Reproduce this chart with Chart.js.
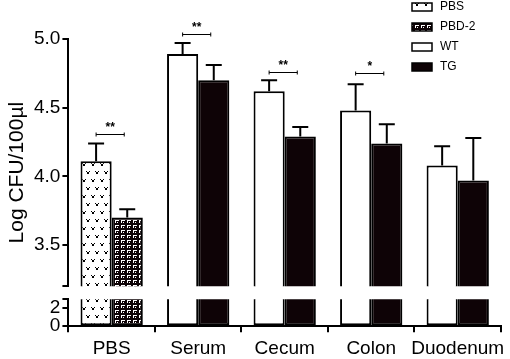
<!DOCTYPE html>
<html lang="en">
<head>
<meta charset="UTF-8">
<title>Log CFU/100µl</title>
<script src="https://cdn.jsdelivr.net/npm/chart.js"></script>
<style>
  html, body { margin: 0; padding: 0; background: #fff; }
  #wrap { width: 510px; height: 359px; position: relative; }
</style>
</head>
<body>
<div id="wrap"><canvas id="cfuChart"></canvas></div>
<script>
const categories = ['PBS', 'Serum', 'Cecum', 'Colon', 'Duodenum'];
const legendLabels = ['PBS', 'PBD-2', 'WT', 'TG'];
const yTitle = 'Log CFU/100µl';
// first bar of each group (PBS, then WT) and second bar (PBD-2, then TG)
const leftMeans = [4.11, 4.89, 4.62, 4.48, 4.08];
const leftSem = [0.13, 0.08, 0.08, 0.19, 0.14];
const rightMeans = [3.70, 4.70, 4.29, 4.24, 3.97];
const rightSem = [0.06, 0.11, 0.07, 0.14, 0.31];
const upperTicks = [3.2, 3.5, 4.0, 4.5, 5.0];
const lowerTicks = [0, 2, 2.9];
const sigGroups = [0, 1, 2, 3];
const sigMarks = ['**', '**', '**', '*'];
const sigLevels = [4.31, 5.04, 4.76, 4.755];

const FONT = "'Liberation Sans', Arial, sans-serif";
const tgBlack = '#0e0306';

function makePattern(w, h, draw) {
    const c = document.createElement('canvas');
    c.width = w;
    c.height = h;
    const g = c.getContext('2d');
    draw(g);
    return g.createPattern(c, 'repeat');
}

// little "v" marks on white (PBS)
const vPattern = makePattern(9, 16, g => {
    g.fillStyle = '#fff';
    g.fillRect(0, 0, 9, 16);
    g.fillStyle = '#000';
    const v = (x, y) => {
        g.fillRect(x, y, 1, 1);
        g.fillRect(x + 3, y, 1, 1);
        g.fillRect(x + 1, y + 1, 2, 1);
        g.fillRect(x + 1, y + 2, 2, 1);
    };
    v(1, 3);
    v(5, 11);
});

// white hooks on black (PBD-2)
const hookPattern = makePattern(6, 5, g => {
    g.fillStyle = tgBlack;
    g.fillRect(0, 0, 6, 5);
    g.fillStyle = '#fff';
    g.fillRect(1, 0, 4, 1);
    g.fillRect(1, 1, 1, 2);
    g.fillRect(3, 2, 1, 1);
});

const leftColors = categories.map((c, i) => i === 0 ? vPattern : '#ffffff');
const rightColors = categories.map((c, i) => i === 0 ? hookPattern : tgBlack);
const legendFills = [vPattern, hookPattern, '#ffffff', tgBlack];

function barSet(label, data, colors, axis, slot) {
    return {
        label: label,
        data: data,
        yAxisID: axis,
        stack: slot,
        backgroundColor: colors,
        borderColor: '#000',
        borderWidth: 2,
        borderSkipped: false,
        barPercentage: 1,
        categoryPercentage: 0.72
    };
}

const errorBars = {
    id: 'errorBars',
    afterDatasetsDraw(chart) {
        const ctx = chart.ctx;
        const sems = [leftSem, rightSem];
        const means = [leftMeans, rightMeans];
        ctx.save();
        ctx.strokeStyle = '#000';
        ctx.lineWidth = 2;
        [0, 1].forEach(d => {
            const meta = chart.getDatasetMeta(d);
            const ys = chart.scales[meta.yAxisID];
            meta.data.forEach((bar, i) => {
                const top = ys.getPixelForValue(means[d][i] + sems[d][i]);
                ctx.beginPath();
                ctx.moveTo(bar.x, bar.y);
                ctx.lineTo(bar.x, top);
                ctx.moveTo(bar.x - 8, top);
                ctx.lineTo(bar.x + 8, top);
                ctx.stroke();
            });
        });
        ctx.restore();
    }
};

const sigBrackets = {
    id: 'sigBrackets',
    afterDatasetsDraw(chart) {
        const ctx = chart.ctx;
        const ys = chart.scales.y;
        const a = chart.getDatasetMeta(0).data;
        const b = chart.getDatasetMeta(1).data;
        ctx.save();
        ctx.strokeStyle = '#000';
        ctx.fillStyle = '#000';
        ctx.lineWidth = 1;
        ctx.font = 'bold 12px ' + FONT;
        ctx.textAlign = 'center';
        ctx.textBaseline = 'bottom';
        sigGroups.forEach((g, k) => {
            const x1 = a[g].x;
            const x2 = b[g].x - 3;
            const y = Math.round(ys.getPixelForValue(sigLevels[k])) + 0.5;
            ctx.beginPath();
            ctx.moveTo(x1, y);
            ctx.lineTo(x2, y);
            ctx.moveTo(x1, y - 2);
            ctx.lineTo(x1, y + 2);
            ctx.moveTo(x2, y - 2);
            ctx.lineTo(x2, y + 2);
            ctx.stroke();
            ctx.fillText(sigMarks[k], (x1 + x2) / 2, y - 1);
        });
        ctx.restore();
    }
};

const boxLegend = {
    id: 'boxLegend',
    afterDraw(chart) {
        const ctx = chart.ctx;
        ctx.save();
        ctx.font = '12px ' + FONT;
        ctx.textBaseline = 'middle';
        ctx.textAlign = 'left';
        legendLabels.forEach((lab, i) => {
            const y = 3 + i * 20;
            ctx.fillStyle = legendFills[i];
            ctx.fillRect(412, y, 20, 8);
            ctx.strokeStyle = '#000';
            ctx.lineWidth = 1.5;
            ctx.strokeRect(412, y, 20, 8);
            ctx.fillStyle = '#000';
            ctx.fillText(lab, 440, y + 4);
        });
        ctx.restore();
    }
};

// axis title drawn by hand so it can sit across the broken axis
const sideTitle = {
    id: 'sideTitle',
    afterDraw(chart) {
        const ctx = chart.ctx;
        const area = chart.chartArea;
        ctx.save();
        ctx.translate(17, (area.top + area.bottom) / 2 - 10);
        ctx.rotate(-Math.PI / 2);
        ctx.font = '21px ' + FONT;
        ctx.fillStyle = '#000';
        ctx.textAlign = 'center';
        ctx.textBaseline = 'middle';
        ctx.fillText(yTitle, 0, 0);
        ctx.restore();
    }
};

const axisLine = { color: '#000', width: 2 };
const tickMarks = { drawOnChartArea: false, tickLength: 6, color: '#000', lineWidth: 2 };
const tickFont = { family: FONT, size: 19 };

new Chart(document.getElementById('cfuChart'), {
    type: 'bar',
    data: {
        labels: categories,
        datasets: [
            barSet('left', leftMeans, leftColors, 'y', 'L'),
            barSet('right', rightMeans, rightColors, 'y', 'R'),
            barSet('left low', leftMeans, leftColors, 'y2', 'L'),
            barSet('right low', rightMeans, rightColors, 'y2', 'R')
        ]
    },
    options: {
        responsive: true,
        maintainAspectRatio: false,
        animation: false,
        layout: { padding: { top: 39, left: 32, right: 8, bottom: -6 } },
        plugins: {
            legend: { display: false },
            tooltip: { enabled: false }
        },
        scales: {
            x: {
                offset: true,
                grid: tickMarks,
                border: axisLine,
                ticks: { color: '#000', font: tickFont, padding: 5, maxRotation: 0, autoSkip: false }
            },
            y2: {
                position: 'left',
                stack: 'split',
                stackWeight: 27,
                stacked: false,
                min: 0,
                max: 2.9,
                afterBuildTicks: s => { s.ticks = lowerTicks.map(v => ({ value: v })); },
                grid: tickMarks,
                border: axisLine,
                ticks: {
                    color: '#000',
                    font: tickFont,
                    padding: 2,
                    autoSkip: false,
                    callback: v => v === lowerTicks[2] ? '' : String(v)
                }
            },
            gap: {
                position: 'left',
                stack: 'split',
                stackWeight: 13,
                grid: { display: false },
                border: { display: false },
                ticks: { display: false }
            },
            y: {
                position: 'left',
                stack: 'split',
                stackWeight: 248,
                stacked: false,
                min: 3.2,
                max: 5.0,
                afterBuildTicks: s => { s.ticks = upperTicks.map(v => ({ value: v })); },
                grid: tickMarks,
                border: axisLine,
                ticks: {
                    color: '#000',
                    font: tickFont,
                    padding: 2,
                    callback: v => v === upperTicks[0] ? '' : v.toFixed(1)
                }
            }
        }
    },
    plugins: [errorBars, sigBrackets, boxLegend, sideTitle]
});
</script>
</body>
</html>
